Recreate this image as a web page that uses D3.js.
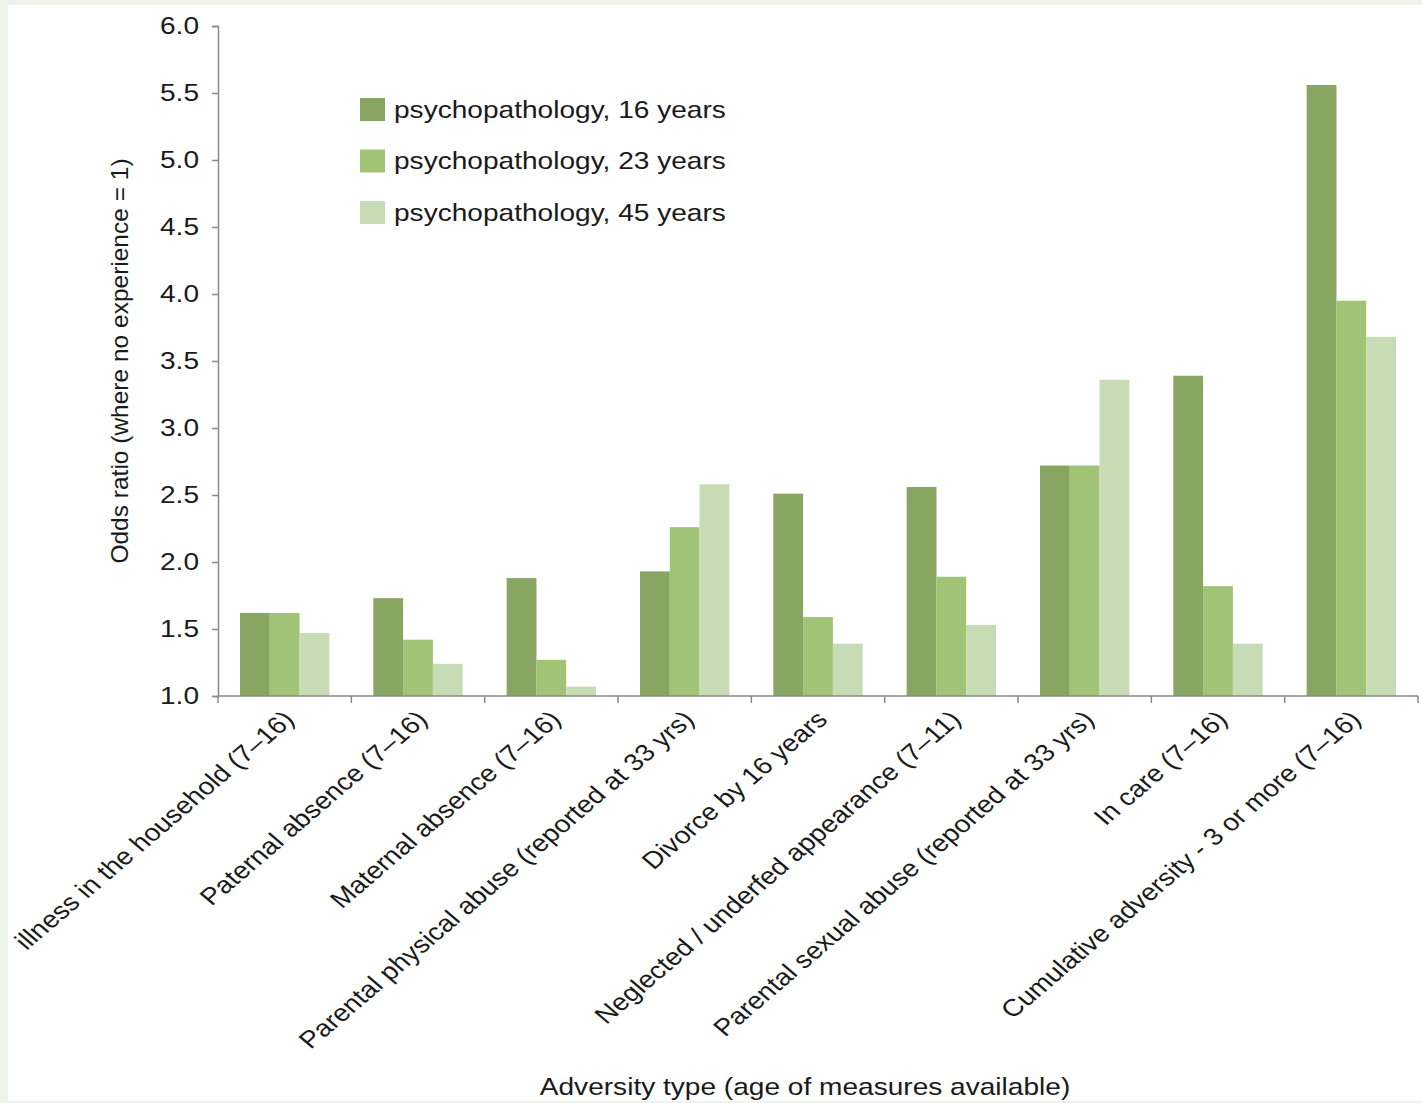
<!DOCTYPE html>
<html><head><meta charset="utf-8">
<script src="https://cdn.jsdelivr.net/npm/d3@7"></script>
<style>
html,body{margin:0;padding:0;background:#eef4ec;}
svg{display:block;}
text{font-family:"Liberation Sans",Arial,Helvetica,sans-serif;fill:#1a1a1a;}
</style></head>
<body>
<svg id="chart" width="1422" height="1103"></svg>
<script>
const categories = [
  "illness in the household (7\u201316)",
  "Paternal absence (7\u201316)",
  "Maternal absence (7\u201316)",
  "Parental physical abuse (reported at 33 yrs)",
  "Divorce by 16 years",
  "Neglected / underfed appearance (7\u201311)",
  "Parental sexual abuse (reported at 33 yrs)",
  "In care (7\u201316)",
  "Cumulative adversity - 3 or more (7\u201316)"
];
const seriesNames = ["psychopathology, 16 years","psychopathology, 23 years","psychopathology, 45 years"];
const psych16 = [1.62, 1.73, 1.88, 1.93, 2.51, 2.56, 2.72, 3.39, 5.56];
const psych23 = [1.62, 1.42, 1.27, 2.26, 1.59, 1.89, 2.72, 1.82, 3.95];
const psych45 = [1.47, 1.24, 1.07, 2.58, 1.39, 1.53, 3.36, 1.39, 3.68];
const yTicks = [1.0,1.5,2.0,2.5,3.0,3.5,4.0,4.5,5.0,5.5,6.0];
const colors = ["#88a662","#a0c376","#c7dbb4"];

(function(){
const SX = 1.17, FS = 24;
const svg = d3.select("#chart");
svg.append("rect").attr("x",8).attr("y",5).attr("width",1414).attr("height",1096).attr("fill","#ffffff");

const mLeft = 218, mRight = 1418, mTop = 26, mBottom = 696;
const x0 = d3.scaleBand().domain(categories).range([mLeft,mRight]).paddingInner(0.33).paddingOuter(0.165);
const x1 = d3.scaleBand().domain([0,1,2]).range([0,x0.bandwidth()]);
const y = d3.scaleLinear().domain([1,6]).range([mBottom,mTop]);
const series = [psych16, psych23, psych45];

const g = svg.append("g");
categories.forEach((c,i)=>{
  series.forEach((s,j)=>{
    g.append("rect")
      .attr("x", x0(c)+x1(j))
      .attr("y", y(s[i]))
      .attr("width", x1.bandwidth())
      .attr("height", y(1)-y(s[i]))
      .attr("fill", colors[j]);
  });
});

const yAxis = d3.axisLeft(y).tickValues(yTicks).tickFormat(d3.format(".1f")).tickSize(6).tickPadding(13);
const ya = svg.append("g").attr("transform",`translate(${mLeft},0)`).call(yAxis);
ya.select(".domain").attr("stroke","#8a8a8a").attr("stroke-width",1.5);
ya.selectAll(".tick line").attr("stroke","#8a8a8a").attr("stroke-width",1.5);
ya.selectAll(".tick text")
  .attr("font-size",FS).attr("fill","#1a1a1a").attr("font-family","Liberation Sans, Arial, sans-serif")
  .attr("x", -19/SX).attr("transform",`scale(${SX},1)`);

const xa = svg.append("g").attr("transform",`translate(0,${mBottom})`);
xa.append("line").attr("x1",mLeft).attr("x2",mRight).attr("y1",0).attr("y2",0).attr("stroke","#8a8a8a").attr("stroke-width",1.5);
const step = x0.step();
d3.range(categories.length+1).forEach(k=>{
  const xx = mLeft + k*step;
  xa.append("line").attr("x1",xx).attr("x2",xx).attr("y1",0).attr("y2",7).attr("stroke","#8a8a8a").attr("stroke-width",1.5);
});
categories.forEach(c=>{
  const cx = x0(c)+x0.bandwidth()/2 + 4;
  xa.append("text")
    .attr("transform",`translate(${cx},${19}) scale(${SX},1) rotate(-45)`)
    .attr("text-anchor","end")
    .attr("font-size",FS)
    .attr("dy","0.35em")
    .text(c);
});

svg.append("text").attr("transform",`translate(128,${(mTop+mBottom)/2}) rotate(-90)`)
  .attr("text-anchor","middle").attr("font-size",24.5).text("Odds ratio (where no experience = 1)");
svg.append("text").attr("transform",`translate(805,1095) scale(${SX},1)`).attr("text-anchor","middle").attr("font-size",FS)
  .text("Adversity type (age of measures available)");

const lg = svg.append("g").attr("transform","translate(360,98)");
seriesNames.forEach((n,j)=>{
  lg.append("rect").attr("x",0).attr("y",j*51.5).attr("width",25).attr("height",23).attr("fill",colors[j]);
  lg.append("text").attr("transform",`translate(34,${j*51.5+11.5}) scale(${SX},1)`).attr("dy","0.35em").attr("font-size",FS).text(n);
});
})();
</script>
</body></html>
